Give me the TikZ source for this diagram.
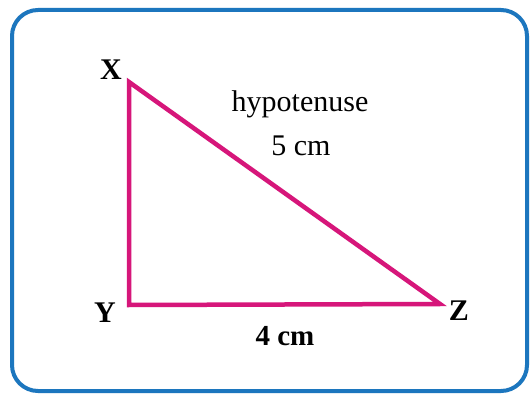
\documentclass[tikz,border=0pt]{standalone}
\usepackage{fontspec}
\setmainfont{Liberation Serif}
\definecolor{framebl}{RGB}{28,118,190}
\definecolor{trimag}{RGB}{214,22,122}
\tikzset{
  frame/.style={draw=framebl, line width=4pt, rounded corners=26pt},
  side/.style={draw=trimag, line width=4.5pt, line join=miter},
  vlabel/.style={font=\fontsize{30}{36}\selectfont\bfseries, inner sep=0pt},
  txt/.style={font=\fontsize{30}{36}\selectfont, inner sep=0pt},
  btxt/.style={font=\fontsize{29}{34}\selectfont\bfseries, inner sep=0pt},
}
\begin{document}
\begin{tikzpicture}[x=1pt,y=-1pt]
\useasboundingbox (0,0) rectangle (531,396);
\fill[white] (0,0) rectangle (531,396);
\draw[frame] (12,10) rectangle (527,391);
\coordinate (vX) at (129,82);
\coordinate (vY) at (129,305);
\coordinate (vZ) at (440,304);
\draw[side] (vX) -- (vY) -- (vZ) -- cycle;
\node[vlabel] (lX) at (111,70) {X};
\node[vlabel] (lY) at (105,313) {Y};
\node[vlabel] (lZ) at (459,311) {Z};
\node[txt] (hyp) at (300,104) {hypotenuse};
\node[txt] (five) at (301,146) {5 cm};
\node[btxt] (four) at (285,336) {4 cm};
\end{tikzpicture}
\end{document}
